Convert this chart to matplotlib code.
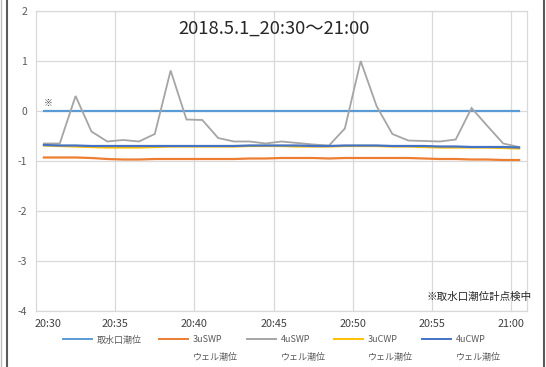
import matplotlib
matplotlib.use("Agg")
import matplotlib.pyplot as plt
from matplotlib.lines import Line2D

plt.rcParams['font.family'] = ['Noto Sans CJK JP', 'DejaVu Sans']
plt.rcParams['axes.unicode_minus'] = False

# ---- data ----
times = ["20:30", "20:35", "20:40", "20:45", "20:50", "20:55", "21:00"]
tick_pos = [0.25, 4.5, 9.5, 14.5, 19.5, 24.5, 29.5]
minutes = list(range(31))

intake = [0.0, 0.0, 0.0, 0.0, 0.0, 0.0, 0.0, 0.0, 0.0, 0.0, 0.0,
          0.0, 0.0, 0.0, 0.0, 0.0, 0.0, 0.0, 0.0, 0.0, 0.0,
          0.0, 0.0, 0.0, 0.0, 0.0, 0.0, 0.0, 0.0, 0.0, 0.0]
swp3 = [-0.93, -0.93, -0.93, -0.94, -0.96, -0.97, -0.97, -0.96, -0.96, -0.96, -0.96,
        -0.96, -0.96, -0.95, -0.95, -0.94, -0.94, -0.94, -0.95, -0.94, -0.94,
        -0.94, -0.94, -0.94, -0.95, -0.96, -0.96, -0.97, -0.97, -0.98, -0.98]
swp4 = [-0.65, -0.65, 0.30, -0.41, -0.61, -0.58, -0.61, -0.46, 0.81, -0.17, -0.18,
        -0.54, -0.61, -0.61, -0.65, -0.61, -0.64, -0.67, -0.69, -0.35, 1.00,
        0.10, -0.46, -0.59, -0.60, -0.61, -0.57, 0.06, -0.30, -0.65, -0.72]
cwp3 = [-0.69, -0.70, -0.71, -0.72, -0.73, -0.73, -0.73, -0.72, -0.71, -0.71, -0.71,
        -0.71, -0.71, -0.70, -0.70, -0.70, -0.71, -0.71, -0.71, -0.70, -0.70,
        -0.70, -0.71, -0.71, -0.72, -0.73, -0.73, -0.73, -0.73, -0.74, -0.75]
cwp4 = [-0.68, -0.69, -0.69, -0.70, -0.70, -0.70, -0.70, -0.70, -0.70, -0.70, -0.70,
        -0.70, -0.70, -0.69, -0.69, -0.69, -0.69, -0.70, -0.70, -0.69, -0.69,
        -0.69, -0.70, -0.70, -0.70, -0.71, -0.71, -0.72, -0.72, -0.72, -0.73]

series_names = ["取水口潮位", "3uSWP", "4uSWP", "3uCWP", "4uCWP"]
series_colors = ["#5B9BD5", "#ED7D31", "#A5A5A5", "#FFC000", "#4472C4"]
series_data = [intake, swp3, swp4, cwp3, cwp4]

W, H = 546, 367
fig = plt.figure(figsize=(W / 100, H / 100), dpi=100)
ax = fig.add_axes([36 / W, 1 - 311 / H, (527 - 36) / W, 300 / H])

grid_c = "#D9D9D9"
for y in range(-4, 3):
    ax.axhline(y, color=grid_c, lw=0.9, zorder=0)
for xg in [4.5, 9.5, 14.5, 19.5, 24.5, 29.5]:
    ax.axvline(xg, color=grid_c, lw=0.9, zorder=0)

handles = []
for name, col, data in zip(series_names, series_colors, series_data):
    lw = 1.3 if name == "4uSWP" else 1.6
    h, = ax.plot(minutes, data, color=col, lw=lw, solid_joinstyle='miter')
    handles.append(h)

ax.set_xlim(-0.5, 30.5)
ax.set_ylim(-4, 2)
ax.set_yticks(range(-4, 3))
ax.set_yticklabels([str(v) for v in range(-4, 3)])
ax.set_xticks(tick_pos)
ax.set_xticklabels(times)
ax.tick_params(axis='y', length=0, pad=6.5, labelsize=7.5, labelcolor="#595959")
ax.tick_params(axis='x', length=0, pad=6.0, labelsize=7.8, labelcolor="#404040")
for s in ax.spines.values():
    s.set_color(grid_c)
    s.set_linewidth(0.9)

ax.text(0.28, 0.16, "※", fontsize=6.5, color="#404040", ha='center', va='center')
ax.text(1.01, 0.047, "※取水口潮位計点検中", transform=ax.transAxes, fontsize=7.6,
        color="#262626", ha='right', va='center')

fig.text(274 / W, 1 - 28.5 / H, "2018.5.1_20:30～21:00", fontsize=13.2,
         color="#262626", ha='center', va='center')

# legend
leg_fs = 6.5
px_per_em = leg_fs * 100 / 72
starts = [63, 158.5, 246.5, 333.5, 421.5]
legs = []
for h, name, x0 in zip(handles, series_names, starts):
    lg = fig.legend([Line2D([], [], color=h.get_color(), lw=1.4)], [name],
                    loc='center left', bbox_to_anchor=(x0 / W, 1 - 340 / H),
                    frameon=False, fontsize=leg_fs, borderpad=0, borderaxespad=0,
                    handlelength=29 / px_per_em, handletextpad=5 / px_per_em,
                    labelcolor="#595959")
    legs.append(lg)

fig.canvas.draw()
inv = fig.transFigure.inverted()
for lg in legs[1:]:
    t = lg.get_texts()[0]
    bb = t.get_window_extent()
    fx, _ = inv.transform((bb.x0, 0))
    fig.text(fx, 1 - 357 / H, "ウェル潮位", fontsize=leg_fs, color="#595959",
             ha='left', va='center')

# chart frame borders
fig.add_artist(Line2D([7 / W, 7 / W], [0, 1], transform=fig.transFigure,
                      color="#5a5a5a", lw=1.5))
fig.add_artist(Line2D([544 / W, 544 / W], [0, 1], transform=fig.transFigure,
                      color="#5a5a5a", lw=1.5))
fig.add_artist(Line2D([0.5 / W, 0.5 / W], [0, 1], transform=fig.transFigure,
                      color="#bbbbbb", lw=1.0))

fig.savefig("out.png", dpi=100)
